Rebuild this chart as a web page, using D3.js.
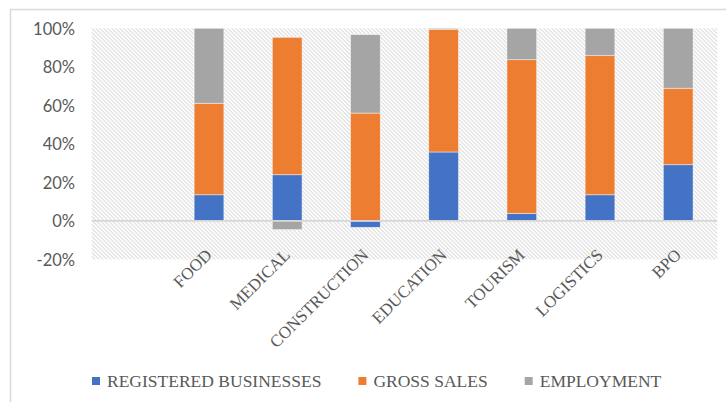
<!DOCTYPE html>
<html>
<head>
<meta charset="utf-8">
<script src="https://cdn.jsdelivr.net/npm/d3@7"></script>
<style>
  body { margin: 0; background: #fff; }
</style>
</head>
<body>
<script>
// data (percent)
const categories = ["", "FOOD", "MEDICAL", "CONSTRUCTION", "EDUCATION", "TOURISM", "LOGISTICS", "BPO"];
const registered = [null, 13.6, 24.0, -3.3, 35.8, 3.9, 13.6, 29.2];
const grossSales = [null, 47.5, 71.3, 56.0, 63.7, 79.8, 72.2, 39.7];
const employment = [null, 38.9, -4.5, 40.7, 0.5, 16.3, 14.2, 31.1];
const seriesNames = ["REGISTERED BUSINESSES", "GROSS SALES", "EMPLOYMENT"];
const yTicks = [-20, 0, 20, 40, 60, 80, 100];

const colors = ["#4472C4", "#ED7D31", "#A5A5A5"];

//svg size
let svgWidth = 726;
let svgHeight = 402;
//plot area
var margin = { top: 28.3, right: 8.7, bottom: 142.5, left: 91.7 };
var width = svgWidth - margin.left - margin.right;
var height = svgHeight - margin.top - margin.bottom;

var svg = d3.select("body")
  .append("svg")
  .attr("width", svgWidth)
  .attr("height", svgHeight);

// hatch pattern for plot background
var defs = svg.append("defs");
var pat = defs.append("pattern")
  .attr("id", "hatch")
  .attr("patternUnits", "userSpaceOnUse")
  .attr("width", 4)
  .attr("height", 4);
pat.append("path")
  .attr("d", "M-1,-1 L5,5 M-1,3 L1,5 M3,-1 L5,1")
  .attr("stroke", "#c9c9c9")
  .attr("stroke-width", 1);

// chart area border (cropped at right/bottom)
svg.append("rect")
  .attr("x", 10.5).attr("y", 9.5)
  .attr("width", 800).attr("height", 500)
  .attr("fill", "none")
  .attr("stroke", "#d9d9d9")
  .attr("stroke-width", 1.5);

var chartGroup = svg.append("g")
  .attr("transform", `translate(${margin.left}, ${margin.top})`);

chartGroup.append("rect")
  .attr("width", width)
  .attr("height", height)
  .attr("fill", "url(#hatch)");

// table for stacking
var rows = categories.map((c, i) => ({
  cat: c,
  s0: registered[i],
  s1: grossSales[i],
  s2: employment[i]
}));

var stacked = d3.stack()
  .keys(["s0", "s1", "s2"])
  .value((d, k) => d[k] == null ? 0 : d[k])
  .offset(d3.stackOffsetDiverging)(rows);

//Scales
var xScale = d3.scaleBand()
  .domain(categories.map((c, i) => i))
  .range([0, width]);

var yScale = d3.scaleLinear()
  .domain([-20, 100])
  .range([height, 0]);

var barW = xScale.bandwidth() * 0.38;

//y axis
var leftAxis = d3.axisLeft(yScale)
  .tickValues(yTicks)
  .tickSize(0)
  .tickPadding(16.7)
  .tickFormat(d => d + "%");

var yAxisG = chartGroup.append("g").call(leftAxis);
yAxisG.select(".domain").remove();
yAxisG.selectAll("text")
  .attr("font-family", "Lato, 'Open Sans', sans-serif")
  .attr("font-size", "16.5px")
  .attr("fill", "#595959")
  .attr("dy", "0.36em");

//bars
stacked.forEach((layer, si) => {
  chartGroup.append("g")
    .selectAll("rect")
    .data(layer.map((d, i) => ({ lo: d[0], hi: d[1], i: i })).filter(d => d.hi !== d.lo))
    .enter()
    .append("rect")
    .attr("x", d => xScale(d.i) + (xScale.bandwidth() - barW) / 2)
    .attr("y", d => yScale(Math.max(d.lo, d.hi)))
    .attr("width", barW)
    .attr("height", d => Math.abs(yScale(d.lo) - yScale(d.hi)))
    .attr("fill", colors[si])
    .attr("stroke", "#ffffff")
    .attr("stroke-opacity", 0.6)
    .attr("stroke-width", 0.75);
});

//zero line
chartGroup.append("line")
  .attr("x1", 0).attr("x2", width)
  .attr("y1", yScale(0)).attr("y2", yScale(0))
  .attr("stroke", "#d6d6d6")
  .attr("stroke-width", 1.75);

//category labels
chartGroup.append("g").selectAll("text")
  .data(categories.map((c, i) => ({ c: c, i: i })).filter(d => d.c))
  .enter()
  .append("text")
  .attr("transform", d => `translate(${xScale(d.i) + xScale.bandwidth() / 2}, ${height - 7.5}) rotate(-45)`)
  .attr("text-anchor", "end")
  .attr("dy", "0.33em")
  .attr("font-family", "Liberation Serif, serif")
  .attr("font-size", "17px")
  .attr("fill", "#595959")
  .text(d => d.c);

//legend
var legend = svg.append("g");
var lx = 92;
seriesNames.forEach((name, si) => {
  legend.append("rect")
    .attr("x", lx).attr("y", 377)
    .attr("width", 8).attr("height", 8)
    .attr("fill", colors[si]);
  var t = legend.append("text")
    .attr("x", lx + 15)
    .attr("y", 386.5)
    .attr("font-family", "Liberation Serif, serif")
    .attr("font-size", "17.5px")
    .attr("fill", "#595959")
    .text(name);
  lx = lx + 15 + t.node().getComputedTextLength() + 37;
});
</script>
</body>
</html>
